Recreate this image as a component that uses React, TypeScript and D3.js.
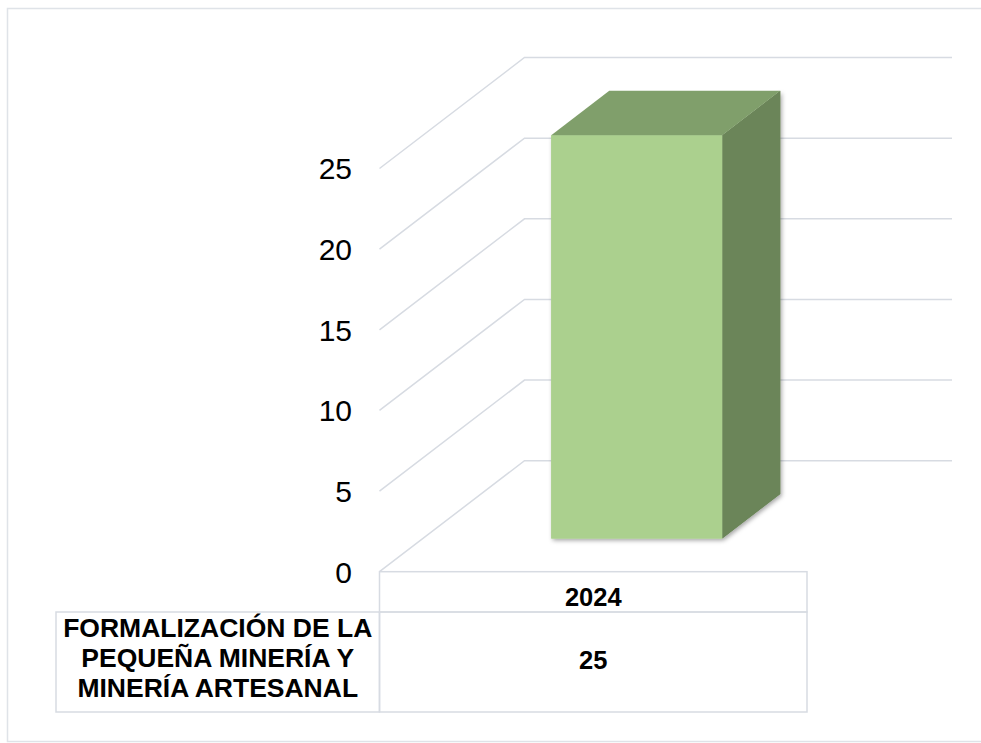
import React from "react";
import * as d3 from "d3";

const categories: string[] = ["2024"];
const seriesName: string[] = ["FORMALIZACIÓN DE LA", "PEQUEÑA MINERÍA Y", "MINERÍA ARTESANAL"];
const seriesValues: number[] = [25];
const tickValues: number[] = [0, 5, 10, 15, 20, 25];

const W = 981;
const H = 743;
const FRONT_LEFT = 379.5;
const FRONT_RIGHT = 807;
const Y0 = 571.7;
const Y25 = 168.5;
const DX = 145;
const DY = -111;
const GRID = "#d7dbe2";
const FONT = "'Liberation Sans', Arial, Helvetica, sans-serif";

export default function App() {
  const x = d3
    .scaleBand<string>()
    .domain(categories)
    .range([FRONT_LEFT, FRONT_RIGHT])
    .paddingInner(0.6)
    .paddingOuter(0.3);
  const xTable = d3.scaleBand<string>().domain(categories).range([FRONT_LEFT, FRONT_RIGHT]).padding(0);
  const y = d3.scaleLinear().domain([0, 25]).range([Y0, Y25]);
  const d0 = 0.3;
  const d1 = 0.7;
  const P = (px: number, v: number, d: number): [number, number] => [px + d * DX, y(v) + d * DY];
  const poly = (pts: [number, number][]) => "M" + pts.map((p) => p.join(",")).join("L") + "Z";

  const tableTop = Y0;
  const headerBottom = 612;
  const tableBottom = 712;
  const labelLeft = 56;

  return (
    <svg
      width={W}
      height={H}
      style={{ position: "absolute", left: 0, top: 0, display: "block", background: "#fff" }}
    >
      <defs>
        <filter id="shadow" x="-20%" y="-20%" width="140%" height="140%">
          <feDropShadow dx="1.5" dy="2" stdDeviation="2" floodColor="#000" floodOpacity="0.35" />
        </filter>
      </defs>
      <rect x={7.5} y={8.5} width={W + 10} height={733} fill="#fff" stroke="#dfe3e8" strokeWidth={1.5} />

      {tickValues.map((t) => {
        const [fx, fy] = P(FRONT_LEFT, t, 0);
        const [bx, by] = P(FRONT_LEFT, t, 1);
        const [rx] = P(FRONT_RIGHT, t, 1);
        return (
          <path key={t} d={`M${fx},${fy}L${bx},${by}L${rx},${by}`} fill="none" stroke={GRID} strokeWidth={1.5} />
        );
      })}

      {tickValues.map((t) => (
        <text
          key={"l" + t}
          x={352}
          y={y(t)}
          dy="0.36em"
          textAnchor="end"
          fontFamily={FONT}
          fontSize={30}
          fill="#000"
        >
          {t}
        </text>
      ))}

      {categories.map((c, i) => {
        const v = seriesValues[i];
        const xl = x(c)!;
        const xr = xl + x.bandwidth();
        const front = poly([P(xl, 0, d0), P(xr, 0, d0), P(xr, v, d0), P(xl, v, d0)]);
        const top = poly([P(xl, v, d0), P(xr, v, d0), P(xr, v, d1), P(xl, v, d1)]);
        const side = poly([P(xr, 0, d0), P(xr, 0, d1), P(xr, v, d1), P(xr, v, d0)]);
        return (
          <g key={c}>
            <g filter="url(#shadow)">
              <path d={side} fill="#6b8559" />
              <path d={front} fill="#abd08e" />
            </g>
            <path d={side} fill="#6b8559" />
            <path d={front} fill="#abd08e" />
            <path d={top} fill="#809f6b" />
          </g>
        );
      })}

      <g fill="none" stroke={GRID} strokeWidth={1.5}>
        <rect x={FRONT_LEFT} y={tableTop} width={FRONT_RIGHT - FRONT_LEFT} height={headerBottom - tableTop} />
        <rect x={labelLeft} y={headerBottom} width={FRONT_LEFT - labelLeft} height={tableBottom - headerBottom} />
        <rect x={FRONT_LEFT} y={headerBottom} width={FRONT_RIGHT - FRONT_LEFT} height={tableBottom - headerBottom} />
      </g>
      {categories.map((c, i) => {
        const cx = xTable(c)! + xTable.bandwidth() / 2;
        return (
          <g key={"t" + c} fontFamily={FONT} fontWeight="bold" fontSize={25.5} fill="#000" textAnchor="middle">
            <text x={cx} y={606}>{c}</text>
            <text x={cx} y={669}>{seriesValues[i]}</text>
          </g>
        );
      })}
      <g fontFamily={FONT} fontWeight="bold" fontSize={26.5} fill="#000" textAnchor="middle">
        {seriesName.map((s, i) => (
          <text key={s} x={(labelLeft + FRONT_LEFT) / 2} y={637 + i * 30}>
            {s}
          </text>
        ))}
      </g>
    </svg>
  );
}
